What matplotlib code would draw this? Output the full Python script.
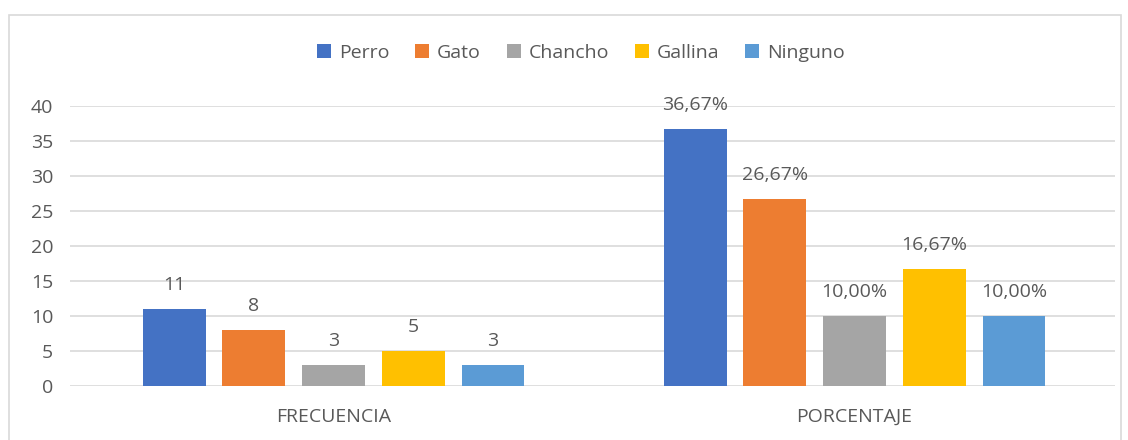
import matplotlib
matplotlib.use("Agg")
import matplotlib.pyplot as plt
from matplotlib.patches import Rectangle
import numpy as np

plt.rcParams['font.family'] = ['Open Sans', 'DejaVu Sans']

categories = ["FRECUENCIA", "PORCENTAJE"]
series_names = ["Perro", "Gato", "Chancho", "Gallina", "Ninguno"]
perro = [11, 36.67]
gato = [8, 26.67]
chancho = [3, 10.00]
gallina = [5, 16.67]
ninguno = [3, 10.00]
labels_perro = ["11", "36,67%"]
labels_gato = ["8", "26,67%"]
labels_chancho = ["3", "10,00%"]
labels_gallina = ["5", "16,67%"]
labels_ninguno = ["3", "10,00%"]
yticks = [0, 5, 10, 15, 20, 25, 30, 35, 40]

series = [perro, gato, chancho, gallina, ninguno]
series_labels = [labels_perro, labels_gato, labels_chancho, labels_gallina, labels_ninguno]
colors = ["#4472C4", "#ED7D31", "#A5A5A5", "#FFC000", "#5B9BD5"]
text_color = "#595959"
fs = 14

fig = plt.figure(figsize=(11.28, 4.4), dpi=100)
fig.patches.append(Rectangle((9/1128, -0.01), (1121-9)/1128, 1 - 15.5/440 + 0.01,
                             transform=fig.transFigure, fill=False,
                             edgecolor="#D9D9D9", linewidth=1.2))
ax = fig.add_axes([70/1128, 1 - 386/440, (1115-70)/1128, (386-106)/440])

x = np.arange(len(categories))
step = 0.153
width = 0.1206
for i, (vals, labs) in enumerate(zip(series, series_labels)):
    pos = x + (i - 2) * step
    bars = ax.bar(pos, vals, width=width, color=colors[i], label=series_names[i], zorder=3)
    for b, lab in zip(bars, labs):
        ax.annotate(lab, (b.get_x() + b.get_width()/2, b.get_height()),
                    xytext=(0, 17.5), textcoords="offset points",
                    ha="center", va="center", fontsize=fs, color=text_color)

ax.set_xlim(-0.506, 1.5)
ax.set_ylim(0, 40)
ax.set_yticks(yticks)
ax.set_xticks(x)
ax.set_xticklabels(categories)
ax.yaxis.grid(True, color="#D9D9D9", linewidth=1.2, zorder=0)
ax.set_axisbelow(True)
for s in ax.spines.values():
    s.set_visible(False)
ax.tick_params(axis="both", length=0, colors=text_color, labelsize=fs)
ax.tick_params(axis="x", pad=16)
ax.tick_params(axis="y", pad=12)

leg = fig.legend(loc="center", bbox_to_anchor=(0.515, 1 - 53/440), ncol=5, frameon=False,
                 handlelength=0.7, handleheight=0.7, handletextpad=0.4, columnspacing=1.35,
                 fontsize=fs, labelcolor=text_color)

fig.savefig("out.png", dpi=100)
